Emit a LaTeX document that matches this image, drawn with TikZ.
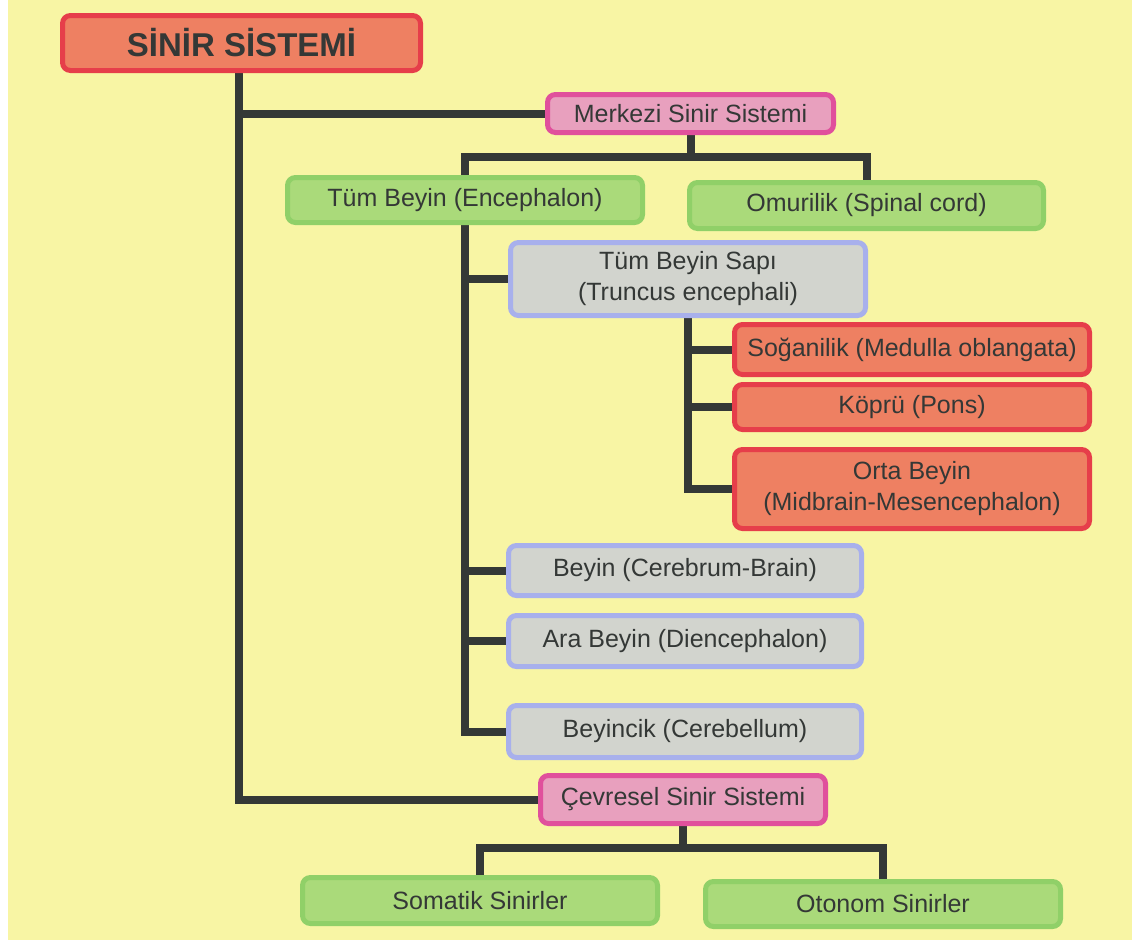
\documentclass[tikz,border=0pt]{standalone}
\usepackage{fontspec}
\setmainfont{Liberation Sans}
\usetikzlibrary{positioning}
\pgfdeclarelayer{paper}
\pgfdeclarelayer{wires}
\pgfsetlayers{paper,wires,main}

\definecolor{paperyellow}{RGB}{248,245,164}
\definecolor{inkgray}{RGB}{52,56,54}
\definecolor{redfill}{RGB}{238,128,98}
\definecolor{redline}{RGB}{230,62,74}
\definecolor{pinkfill}{RGB}{232,160,190}
\definecolor{pinkline}{RGB}{224,80,156}
\definecolor{greenfill}{RGB}{170,218,122}
\definecolor{greenline}{RGB}{144,208,104}
\definecolor{grayfill}{RGB}{210,212,206}
\definecolor{grayline}{RGB}{168,176,236}

\tikzset{
  box/.style={rectangle, rounded corners=8pt, line width=5pt, inner sep=0pt,
    align=center, text=inkgray, font=\fontsize{25}{31}\selectfont},
  redbox/.style={box, draw=redline, fill=redfill},
  pinkbox/.style={box, draw=pinkline, fill=pinkfill},
  greenbox/.style={box, draw=greenline, fill=greenfill},
  graybox/.style={box, draw=grayline, fill=grayfill},
  wire/.style={draw=inkgray, line width=8pt, line join=miter},
}

\begin{document}
\begin{tikzpicture}[x=1pt, y=-1pt]
\useasboundingbox (0,0) rectangle (1132,945);
\begin{pgfonlayer}{paper}
  \fill[white] (0,0) rectangle (1132,945);
  \fill[paperyellow] (8,0) rectangle (1132,940);
\end{pgfonlayer}

% boxes
\node[redbox, minimum width=358pt, minimum height=55pt,
      font=\fontsize{33}{38}\selectfont\bfseries] (title) at (241.5,43) {SİNİR SİSTEMİ};
\node[pinkbox, minimum width=286pt, minimum height=38pt] (merkezi) at (690.5,113.5) {Merkezi Sinir Sistemi};
\node[greenbox, minimum width=355pt, minimum height=45pt] (tumbeyin) at (465,200) {Tüm Beyin (Encephalon)};
\node[greenbox, minimum width=354pt, minimum height=46pt] (omurilik) at (866.5,205.5) {Omurilik (Spinal cord)};
\node[graybox, minimum width=355pt, minimum height=73pt] (sapi) at (688,279) {Tüm Beyin Sapı\\(Truncus encephali)};
\node[redbox, minimum width=355pt, minimum height=50pt] (sogan) at (912,349.5) {Soğanilik (Medulla oblangata)};
\node[redbox, minimum width=355pt, minimum height=45pt] (kopru) at (912,407) {Köprü (Pons)};
\node[redbox, minimum width=355pt, minimum height=79pt] (orta) at (912,489) {Orta Beyin\\(Midbrain-Mesencephalon)};
\node[graybox, minimum width=353pt, minimum height=50pt] (beyin) at (685,570.5) {Beyin (Cerebrum-Brain)};
\node[graybox, minimum width=353pt, minimum height=51pt] (ara) at (685,641) {Ara Beyin (Diencephalon)};
\node[graybox, minimum width=353pt, minimum height=52pt] (beyincik) at (685,731.5) {Beyincik (Cerebellum)};
\node[pinkbox, minimum width=285pt, minimum height=48pt] (cevresel) at (683,799.5) {Çevresel Sinir Sistemi};
\node[greenbox, minimum width=355pt, minimum height=46pt] (somatik) at (480,900.5) {Somatik Sinirler};
\node[greenbox, minimum width=355pt, minimum height=45pt] (otonom) at (883,904) {Otonom Sinirler};

% junction points of the tree
\coordinate (trunk) at (239,0);
\coordinate (msplit) at (0,157);
\coordinate (csplit) at (0,848);

\begin{pgfonlayer}{wires}
  % main trunk
  \draw[wire] (trunk |- title.south) |- (cevresel.west);
  \draw[wire] (trunk |- merkezi.west) -- (merkezi.west);
  % central nervous system
  \draw[wire] (merkezi.south) -- (merkezi.south |- msplit);
  \draw[wire] (tumbeyin.north) -- (tumbeyin.north |- msplit)
              -- (omurilik.north |- msplit) -- (omurilik.north);
  % encephalon
  \draw[wire] (tumbeyin.south) |- (beyincik.west);
  \draw[wire] (tumbeyin.south |- sapi.west) -- (sapi.west);
  \draw[wire] (tumbeyin.south |- beyin.west) -- (beyin.west);
  \draw[wire] (tumbeyin.south |- ara.west) -- (ara.west);
  % brain stem
  \draw[wire] (sapi.south) |- (orta.west);
  \draw[wire] (sapi.south |- sogan.west) -- (sogan.west);
  \draw[wire] (sapi.south |- kopru.west) -- (kopru.west);
  % peripheral nervous system
  \draw[wire] (cevresel.south) -- (cevresel.south |- csplit);
  \draw[wire] (somatik.north) -- (somatik.north |- csplit)
              -- (otonom.north |- csplit) -- (otonom.north);
\end{pgfonlayer}
\end{tikzpicture}
\end{document}
